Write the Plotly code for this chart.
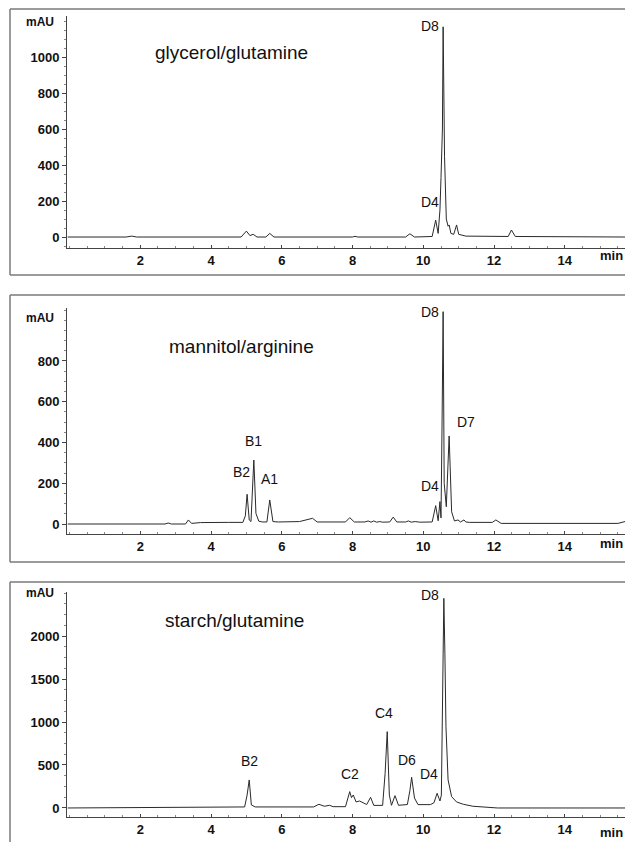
import plotly.graph_objects as go

# ---------------- data ----------------
panel_titles = ["glycerol/glutamine", "mannitol/arginine", "starch/glutamine"]
x_tick_vals = [2, 4, 6, 8, 10, 12, 14]
x_tick_text = ["2", "4", "6", "8", "10", "12", "14"]

y_ticks_1 = [0, 200, 400, 600, 800, 1000]
y_ticks_2 = [0, 200, 400, 600, 800]
y_ticks_3 = [0, 500, 1000, 1500, 2000]

# panel 1: glycerol/glutamine
t1 = [-0.05, 1.6, 1.76, 1.9, 4.85, 5.0, 5.1, 5.19, 5.3, 5.55, 5.66, 5.78,
      8.0, 8.07, 8.15, 9.5, 9.62, 9.75, 10.25, 10.35, 10.42, 10.47, 10.50,
      10.54, 10.56, 10.58, 10.60, 10.65, 10.70, 10.73, 10.78, 10.86, 10.94,
      11.0, 11.2, 12.4, 12.49, 12.6, 15.7]
y1 = [0, 0, 5, 0, 0, 33, 8, 15, 0, 0, 20, 0,
      0, 4, 0, 0, 18, 0, 3, 94, 20, 150, 330,
      600, 1168, 600, 446, 100, 60, 67, 20, 15, 67,
      15, 5, 3, 39, 3, 0]

# panel 2: mannitol/arginine
t2 = [-0.05, 2.7, 2.79, 2.88, 3.28, 3.36, 3.45, 3.7, 4.5, 4.9, 4.97, 5.02,
      5.08, 5.13, 5.21, 5.27, 5.35, 5.45, 5.58, 5.66, 5.75, 5.9, 6.5, 6.87,
      7.0, 7.8, 7.92, 8.05, 8.35, 8.44, 8.52, 8.6, 8.68, 8.77, 8.85, 9.05,
      9.15, 9.25, 9.5, 9.58, 9.66, 9.77, 9.9, 10.25, 10.35, 10.42, 10.47,
      10.50, 10.53, 10.56, 10.59, 10.65, 10.73, 10.80, 10.88, 10.98, 11.05,
      11.15, 11.2, 11.3, 11.95, 12.05, 12.2, 15.5, 15.7]
y2 = [0, 0, 5, 0, 0, 20, 3, 7, 8, 8, 40, 146,
      20, 12, 314, 52, 14, 10, 10, 118, 12, 10, 12, 28,
      10, 10, 31, 10, 10, 15, 9, 15, 9, 12, 9, 10,
      34, 10, 10, 15, 9, 12, 9, 10, 90, 16, 110,
      30, 500, 1042, 200, 85, 432, 60, 15, 20, 10,
      20, 10, 8, 8, 20, 3, 3, 12]

# panel 3: starch/glutamine
t3 = [-0.05, 2.0, 2.5, 4.95, 5.02, 5.08, 5.14, 5.25, 6.9, 7.05, 7.2, 7.35,
      7.45, 7.8, 7.92, 7.97, 8.02, 8.1, 8.2, 8.3, 8.4, 8.51, 8.6, 8.85,
      8.92, 8.98, 9.04, 9.1, 9.2, 9.3, 9.55, 9.62, 9.67, 9.75, 9.85, 10.2,
      10.3, 10.39, 10.47, 10.51, 10.54, 10.58, 10.61, 10.64, 10.70, 10.80,
      10.94, 11.13, 11.4, 12.0, 12.1, 15.7]
y3 = [0, 3, 8, 12, 150, 326, 35, 12, 12, 43, 20, 31,
      15, 15, 190, 120, 151, 70, 81, 62, 40, 124, 30, 30,
      400, 888, 150, 31, 143, 31, 40, 200, 357, 116, 39, 39,
      60, 171, 81, 150, 1200, 2438, 1800, 946, 326, 132,
      70, 43, 20, 8, 0, 0]

# peak labels: (panel, text, x, y) in data units
peak_labels = [
    (1, "D8", 10.2, 1175), (1, "D4", 10.2, 193),
    (2, "D8", 10.2, 1040), (2, "D7", 11.2, 502), (2, "D4", 10.2, 185),
    (2, "B1", 5.2, 405), (2, "B2", 4.85, 255), (2, "A1", 5.65, 220),
    (3, "B2", 5.1, 545), (3, "C2", 7.92, 400), (3, "C4", 8.9, 1100),
    (3, "D6", 9.55, 555), (3, "D4", 10.17, 400), (3, "D8", 10.2, 2480),
]

# ---------------- layout geometry ----------------
W, H = 625, 842
def py(p):  # pixel row -> paper y
    return 1 - p / H
def px(p):
    return p / W

x_dom = [px(67), 1.0]
y_doms = [[py(248), py(16)], [py(534), py(308)], [py(817), py(592)]]
y_ranges = [[-61, 1228], [-49, 1060], [-105, 2512]]
y_ticks = [y_ticks_1, y_ticks_2, y_ticks_3]
y_minor = [50, 50, 125]
series = [(t1, y1), (t2, y2), (t3, y3)]
for a, b in series:
    assert len(a) == len(b)

FONT = "Arial, Liberation Sans, Helvetica, sans-serif"
AXC = "#444444"

fig = go.Figure()
for i, (tt, yy) in enumerate(series):
    n = "" if i == 0 else str(i + 1)
    fig.add_trace(go.Scatter(x=tt, y=yy, mode="lines",
                             line=dict(color="#2a2a2a", width=1),
                             xaxis="x" + n, yaxis="y" + n,
                             showlegend=False, hoverinfo="skip"))
    fig.layout["xaxis" + n] = dict(
        domain=x_dom, range=[-0.07, 15.7], anchor="y" + n,
        showline=True, linecolor=AXC, linewidth=1, showgrid=False,
        zeroline=False, tickvals=x_tick_vals, ticktext=x_tick_text,
        ticks="inside", ticklen=3, tickcolor=AXC,
        minor=dict(ticks="inside", ticklen=2, dtick=0.5, tickcolor="#888888"),
        tickfont=dict(family=FONT, size=13, color="#111111", weight="bold"),
    )
    fig.layout["yaxis" + n] = dict(
        domain=y_doms[i], range=y_ranges[i], anchor="x" + n,
        showline=True, linecolor=AXC, linewidth=1, showgrid=False,
        zeroline=False, tickvals=y_ticks[i], ticks="outside", ticklen=4,
        tickcolor=AXC,
        minor=dict(ticks="outside", ticklen=2, dtick=y_minor[i], tickcolor="#888888"),
        tickfont=dict(family=FONT, size=13, color="#111111", weight="bold"),
    )

annotations = []
title_pos = [(232, 53), (241, 347), (234, 620)]
mau_pos = [22, 318, 593]
min_pos = [255, 543, 832]
for i in range(3):
    annotations.append(dict(text=panel_titles[i], xref="paper", yref="paper",
                            x=px(title_pos[i][0]), y=py(title_pos[i][1]),
                            showarrow=False, xanchor="center", yanchor="middle",
                            font=dict(family=FONT, size=19, color="#111111")))
    annotations.append(dict(text="mAU", xref="paper", yref="paper",
                            x=px(56), y=py(mau_pos[i]), showarrow=False,
                            xanchor="right", yanchor="middle",
                            font=dict(family=FONT, size=12, color="#111111", weight="bold")))
    annotations.append(dict(text="min", xref="paper", yref="paper",
                            x=px(611), y=py(min_pos[i]), showarrow=False,
                            xanchor="center", yanchor="middle",
                            font=dict(family=FONT, size=13, color="#111111", weight="bold")))

for panel, txt, xv, yv in peak_labels:
    n = "" if panel == 1 else str(panel)
    annotations.append(dict(text=txt, xref="x" + n, yref="y" + n, x=xv, y=yv,
                            showarrow=False, xanchor="center", yanchor="middle",
                            font=dict(family=FONT, size=14, color="#111111")))

# panel frames (grey boxes)
FR = "#7a7a7a"
shapes = []
frames = [(9, 275), (295, 562), (582, None)]
for top, bot in frames:
    shapes.append(dict(type="line", xref="paper", yref="paper",
                       x0=px(10), x1=1.02, y0=py(top), y1=py(top),
                       line=dict(color=FR, width=1.5)))
    shapes.append(dict(type="line", xref="paper", yref="paper",
                       x0=px(10), x1=px(10), y0=py(top),
                       y1=py(bot) if bot else -0.02,
                       line=dict(color=FR, width=1.5)))
    if bot:
        shapes.append(dict(type="line", xref="paper", yref="paper",
                           x0=px(10), x1=1.02, y0=py(bot), y1=py(bot),
                           line=dict(color=FR, width=1.5)))

fig.update_layout(width=W, height=H, margin=dict(l=0, r=0, t=0, b=0),
                  paper_bgcolor="white", plot_bgcolor="white",
                  annotations=annotations, shapes=shapes, showlegend=False)

fig.write_html(
    "out.html",
    config={"displayModeBar": False},
    post_script=("document.body.style.margin='0';"
                 "document.body.style.padding='0';"
                 "document.documentElement.style.overflow='hidden';"
                 "document.body.style.overflow='hidden';"),
)
